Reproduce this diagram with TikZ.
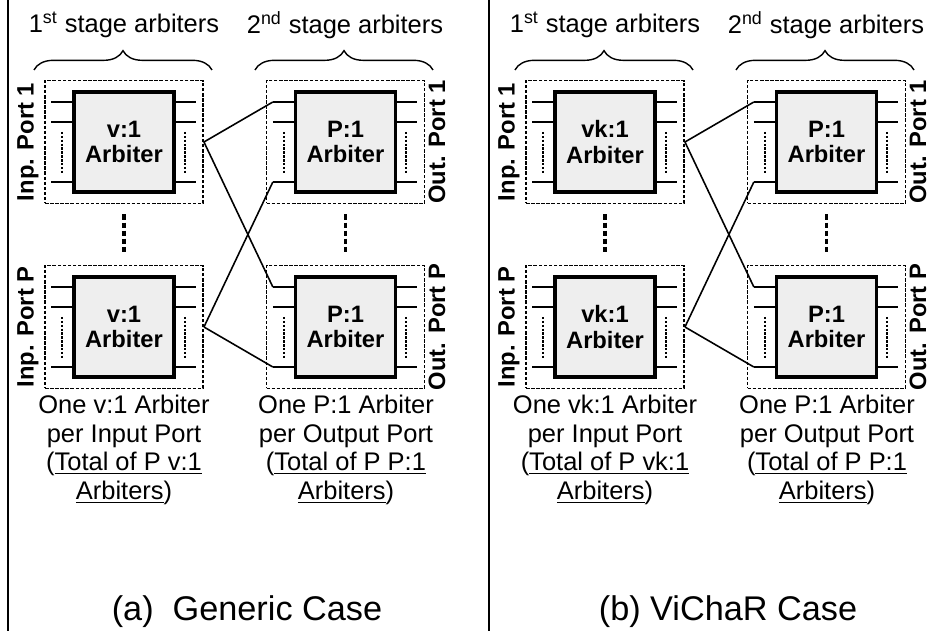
\documentclass[tikz,border=0pt]{standalone}
\usepackage{fontspec}
\setmainfont{Liberation Sans}
\usetikzlibrary{calc,decorations.pathreplacing}
\definecolor{arbGray}{RGB}{238,238,238}

\tikzset{
  portbox/.style={draw, line width=1.1pt, dash pattern=on 2pt off 0.9pt,
    minimum width=3.16cm, minimum height=2.46cm, inner sep=0pt},
  arbbox/.style={draw, fill=arbGray, line width=1.9pt, minimum width=2cm,
    minimum height=2cm, inner sep=0pt, align=center,
    font=\bfseries\fontsize{13.5}{14.5}\selectfont},
  stub/.style={line width=1.1pt},
  tick/.style={line width=1.1pt, dash pattern=on 1.4pt off 0.8pt},
  spacer/.style={line width=2.2pt, dash pattern=on 3pt off 1.6pt},
  wire/.style={line width=0.9pt},
  brace/.style={decorate, decoration={brace, amplitude=11pt, aspect=0.5}, line width=0.8pt},
  stage/.style={font=\fontsize{14.5}{16}\selectfont},
  port/.style={rotate=90, font=\bfseries\fontsize{13.5}{15}\selectfont},
  note/.style={align=center, font=\fontsize{14.5}{16.3}\selectfont},
  capt/.style={font=\fontsize{19.5}{21}\selectfont},
  frame/.style={line width=0.75pt}
}

% one arbiter: dotted port box, shaded arbiter, request stubs
\newcommand{\arbiter}[4]{%
  \node[portbox] (#1) at (#2,#3) {};
  \node[arbbox] (#1-arb) at (#1) {#4\\Arbiter};
  \foreach \dy/\sn in {-40/1,-20/2,40/3} {
    \draw[stub] ($(#1-arb.west)+(-21,\dy)$) coordinate (#1-l\sn) -- ++(21,0);
    \draw[stub] ($(#1-arb.east)+(0,\dy)$) -- ++(20,0);
  }
  \draw[tick] ($(#1-arb.west)+(-10,-10)$) -- ++(0,41);
  \draw[tick] ($(#1-arb.east)+(9,-10)$) -- ++(0,41);
}

\begin{document}
\begin{tikzpicture}[x=0.02cm, y=-0.02cm]
  \useasboundingbox (0,0) rectangle (933,631);

  \foreach \p/\off/\rat/\cap in {a/0/v/{(a)\ \ Generic Case}, b/481/vk/{(b) ViChaR Case}} {
    \begin{scope}[shift={(\off,0)}, name prefix=\p-]
      \draw[frame] (8,0) -- (8,631);

      \node[stage] (st1) at (124,25) {1\textsuperscript{st} stage arbiters};
      \node[stage] (st2) at (345,25) {2\textsuperscript{nd} stage arbiters};
      \draw[brace] (34,70) -- (212,70);
      \draw[brace] (255,70) -- (433,70);

      \arbiter{in1}{124}{142}{\rat:1}
      \arbiter{inP}{124}{327}{\rat:1}
      \arbiter{out1}{345.5}{142}{P:1}
      \arbiter{outP}{345.5}{327}{P:1}

      \node[port] (pin1) at (28,142) {Inp. Port 1};
      \node[port] (pinP) at (28,327) {Inp. Port P};
      \node[port] (pout1) at (437,142) {Out. Port 1};
      \node[port] (poutP) at (437,327) {Out. Port P};

      \draw[spacer] ($(in1.south)+(0,10)$) -- ($(inP.north)+(0,-10)$);
      \draw[spacer] ($(out1.south)+(0,10)$) -- ($(outP.north)+(0,-10)$);

      % crossbar of requests
      \draw[wire] (in1.east) -- (out1-l1);
      \draw[wire] (in1.east) -- (outP-l1);
      \draw[wire] (inP.east) -- (out1-l3);
      \draw[wire] (inP.east) -- (outP-l3);

      \node[note] (nin) at (124,450) {One \rat:1 Arbiter\\per Input Port\\(\underline{Total of P \rat:1}\\\underline{Arbiters})};
      \node[note] (nout) at (346,450) {One P:1 Arbiter\\per Output Port\\(\underline{Total of P P:1}\\\underline{Arbiters})};

      \node[capt] (cap) at (247,612) {\cap};
    \end{scope}
  }
\end{tikzpicture}
\end{document}
